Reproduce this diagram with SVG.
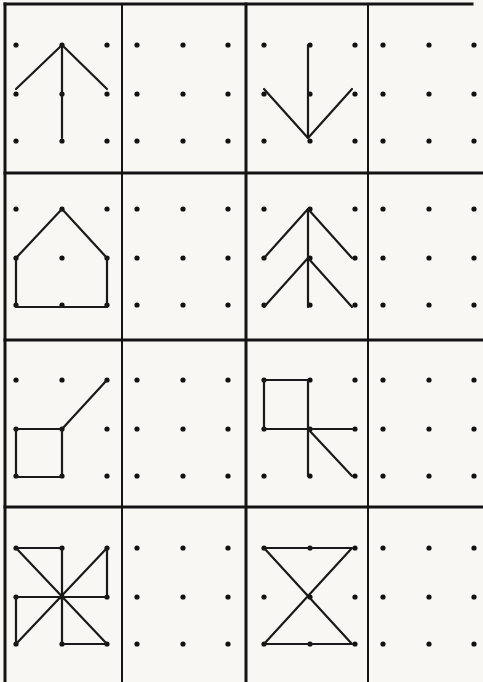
<svg xmlns="http://www.w3.org/2000/svg" width="483" height="682" viewBox="0 0 483 682">
<defs>
<style>
.grid{stroke:#141414;fill:none;stroke-linecap:square}
.thick{stroke-width:3}
.thin{stroke-width:2}
.fig{stroke:#1a1a1a;stroke-width:2.2;fill:none;stroke-linecap:round;stroke-linejoin:round}
.d{fill:#111}
</style>
<g id="dots3x3">
<circle class="d" cx="0" cy="0" r="2.6"/><circle class="d" cx="46" cy="0" r="2.6"/><circle class="d" cx="91" cy="0" r="2.6"/>
<circle class="d" cx="0" cy="49" r="2.6"/><circle class="d" cx="46" cy="49" r="2.6"/><circle class="d" cx="91" cy="49" r="2.6"/>
<circle class="d" cx="0" cy="96" r="2.6"/><circle class="d" cx="46" cy="96" r="2.6"/><circle class="d" cx="91" cy="96" r="2.6"/>
</g>
</defs>
<rect x="0" y="0" width="483" height="682" fill="#f8f7f4"/>
<g id="grid">
<line class="grid thick" x1="5" y1="4" x2="472" y2="4"/>
<line class="grid thick" x1="5" y1="173" x2="483" y2="173"/>
<line class="grid thick" x1="5" y1="340" x2="483" y2="340"/>
<line class="grid thick" x1="5" y1="507" x2="483" y2="507"/>
<line class="grid thick" x1="5" y1="4" x2="5" y2="682"/>
<line class="grid thin" x1="122" y1="4" x2="122" y2="682"/>
<line class="grid thick" x1="246" y1="4" x2="246" y2="682"/>
<line class="grid thin" x1="368" y1="4" x2="368" y2="682"/>
</g>
<g id="r1c1">
<use href="#dots3x3" x="16" y="45"/>
<polyline class="fig" points="16,89 62,45 107,89"/>
<line class="fig" x1="62" y1="45" x2="62" y2="138"/>
</g>
<g id="r1c2"><use href="#dots3x3" x="137" y="45"/></g>
<g id="r1c3">
<use href="#dots3x3" x="264" y="45"/>
<polyline class="fig" points="264,89 308,138 352,89"/>
<line class="fig" x1="308" y1="45" x2="308" y2="138"/>
</g>
<g id="r1c4"><use href="#dots3x3" x="383" y="45"/></g>
<g id="r2c1">
<use href="#dots3x3" x="16" y="209"/>
<polygon class="fig" points="62,209 107,258 107,307 16,307 16,258"/>
</g>
<g id="r2c2"><use href="#dots3x3" x="137" y="209"/></g>
<g id="r2c3">
<use href="#dots3x3" x="264" y="209"/>
<polyline class="fig" points="264,258 308,209 352,258"/>
<polyline class="fig" points="264,307 308,258 352,307"/>
<line class="fig" x1="308" y1="209" x2="308" y2="307"/>
</g>
<g id="r2c4"><use href="#dots3x3" x="383" y="209"/></g>
<g id="r3c1">
<use href="#dots3x3" x="16" y="380"/>
<polygon class="fig" points="16,429 62,429 62,477 16,477"/>
<line class="fig" x1="62" y1="429" x2="107" y2="380"/>
</g>
<g id="r3c2"><use href="#dots3x3" x="137" y="380"/></g>
<g id="r3c3">
<use href="#dots3x3" x="264" y="380"/>
<polygon class="fig" points="264,380 308,380 308,429 264,429"/>
<line class="fig" x1="308" y1="429" x2="352" y2="429"/>
<line class="fig" x1="308" y1="429" x2="308" y2="476"/>
<line class="fig" x1="308" y1="429" x2="352" y2="476"/>
</g>
<g id="r3c4"><use href="#dots3x3" x="383" y="380"/></g>
<g id="r4c1">
<use href="#dots3x3" x="16" y="548"/>
<polyline class="fig" points="16,548 62,548 62,597"/>
<polyline class="fig" points="107,548 107,597 62,597"/>
<polyline class="fig" points="62,597 16,597 16,644"/>
<polyline class="fig" points="62,597 62,644 107,644"/>
<line class="fig" x1="16" y1="548" x2="107" y2="644"/>
<line class="fig" x1="107" y1="548" x2="16" y2="644"/>
</g>
<g id="r4c2"><use href="#dots3x3" x="137" y="548"/></g>
<g id="r4c3">
<use href="#dots3x3" x="264" y="548"/>
<polygon class="fig" points="264,548 352,548 264,644 352,644"/>
</g>
<g id="r4c4"><use href="#dots3x3" x="383" y="548"/></g>
</svg>
